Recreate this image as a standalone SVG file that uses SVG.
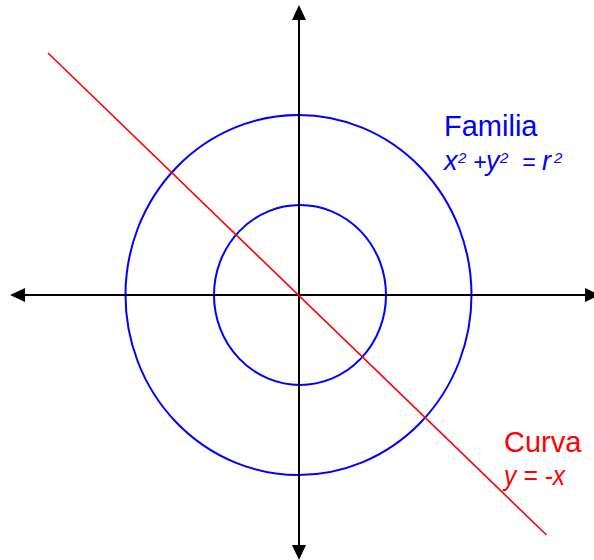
<svg xmlns="http://www.w3.org/2000/svg" width="594" height="560" viewBox="0 0 594 560">
  <style>
    .axis { stroke: #000; stroke-width: 2; fill: none; }
    .circ { stroke: #0000FF; stroke-width: 2; fill: none; }
    .curve { stroke: #FF0000; stroke-width: 1.6; fill: none; }
    .t { font-family: "Liberation Sans", Arial, sans-serif; }
    .blue { fill: #0000FF; }
    .red { fill: #FF0000; }
    .it { font-style: italic; }
    .sup { font-size: 15px; }
    .op { font-size: 23px; }
  </style>
  <defs>
    <marker id="arr" viewBox="0 0 15 14" refX="0" refY="7" markerWidth="15" markerHeight="14" markerUnits="userSpaceOnUse" orient="auto-start-reverse">
      <path d="M0,0 L15,7 L0,14 Z" fill="#000"/>
    </marker>
  </defs>
  <rect width="594" height="560" fill="#fff"/>
  <g id="family">
    <ellipse class="circ" cx="298.5" cy="295" rx="173" ry="180"/>
    <ellipse class="circ" cx="300" cy="295" rx="86" ry="90"/>
  </g>
  <g id="connectors">
    <line class="axis" x1="25" y1="295" x2="585" y2="295" marker-start="url(#arr)" marker-end="url(#arr)"/>
    <line class="axis" x1="299" y1="20" x2="299" y2="545" marker-start="url(#arr)" marker-end="url(#arr)"/>
    <line class="curve" x1="48" y1="53" x2="546.5" y2="535"/>
  </g>
  <g id="label-familia">
    <text class="t blue" x="444" y="136" font-size="29">Familia</text>
    <text class="t blue it" font-size="27"><tspan x="444" y="170">x</tspan><tspan class="sup" x="458" y="163">2</tspan><tspan class="op" x="473" y="170">+</tspan><tspan x="486" y="170">y</tspan><tspan class="sup" x="500" y="163">2</tspan><tspan class="op" x="522" y="170">=</tspan><tspan x="542" y="170">r</tspan><tspan class="sup" x="554" y="163">2</tspan></text>
  </g>
  <g id="label-curva">
    <text class="t red" x="504" y="452" font-size="29">Curva</text>
    <text class="t red it" x="504" y="485" font-size="27" textLength="61" lengthAdjust="spacingAndGlyphs">y = -x</text>
  </g>
</svg>
